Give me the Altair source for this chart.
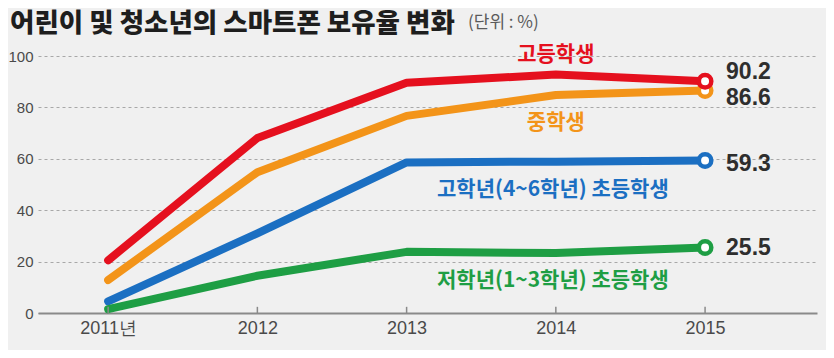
import altair as alt
import pandas as pd

years = [2011, 2012, 2013, 2014, 2015]
series_names = ["고등학생", "중학생", "고학년(4~6학년) 초등학생", "저학년(1~3학년) 초등학생"]
high = [20.5, 68.1, 89.6, 92.8, 90.2]
middle = [12.8, 54.8, 76.7, 84.8, 86.6]
upper_elem = [4.5, 31.0, 58.6, 58.9, 59.3]
lower_elem = [1.5, 14.5, 23.8, 23.3, 25.5]
values = [high, middle, upper_elem, lower_elem]
end_labels = ["90.2", "86.6", "59.3", "25.5"]
# series label anchor (year, value)
label_years = [2014, 2014, 2013.98, 2013.98]
label_values = [100.3, 74, 47.7, 12.5]

colors = ["#e5101e", "#f39419", "#1b6fc2", "#1e9e44"]
label_dy = [-9, 8, 3, 1]  # pixel nudge of the end labels

rows = []
for name, vals in zip(series_names, values):
    for y, v in zip(years, vals):
        rows.append({"series": name, "year": y, "value": v})
df = pd.DataFrame(rows)

end_df = pd.DataFrame({
    "series": series_names,
    "year": [years[-1]] * 4,
    "value": [v[-1] for v in values],
    "label": end_labels,
    "dy": label_dy,
    "order": [3, 2, 1, 0],
})
lab_df = pd.DataFrame({"series": series_names, "year": label_years, "value": label_values})
tick_df = pd.DataFrame({"year": years})

PX_PER_UNIT = 257 / 100.0

xscale = alt.Scale(domain=[2010.53, 2015.75], nice=False, zero=False)
yscale = alt.Scale(domain=[0, 100], nice=False)
cscale = alt.Scale(domain=series_names, range=colors)

X = alt.X("year:Q", scale=xscale, title=None,
          axis=alt.Axis(values=years, grid=False, ticks=False, domain=True,
                        domainColor="#8a8a8a", domainWidth=2,
                        labelExpr="datum.value == 2011 ? '2011년' : datum.label",
                        labelFont="Liberation Sans", labelFontSize=18,
                        labelColor="#4a4a4a", labelPadding=6, format="d"))
Y = alt.Y("value:Q", scale=yscale, title=None,
          axis=alt.Axis(values=[0, 20, 40, 60, 80, 100], grid=True, gridDash=[3, 3],
                        gridColor="#a8a8a8", gridWidth=1, domain=False, ticks=False,
                        labelFont="Liberation Sans", labelFontSize=15,
                        labelColor="#4a4a4a", labelPadding=5))

base = alt.Chart(df)
lines = base.mark_line(strokeWidth=8, strokeCap="round", strokeJoin="round").encode(
    x=X, y=Y,
    color=alt.Color("series:N", scale=cscale, legend=None),
    order=alt.Order("year:Q"),
    detail="series:N",
)

ticks = alt.Chart(tick_df).mark_rule(color="#8a8a8a", strokeWidth=1.5).encode(
    x=alt.X("year:Q", scale=xscale),
    y=alt.datum(0),
    y2=alt.datum(2.4),
)

points = alt.Chart(end_df).mark_point(filled=True, fill="white", size=155, strokeWidth=4.5, opacity=1).encode(
    x=alt.X("year:Q", scale=xscale),
    y=alt.Y("value:Q", scale=yscale),
    stroke=alt.Color("series:N", scale=cscale, legend=None),
    order=alt.Order("order:Q"),
)

end_text = alt.Chart(end_df).transform_calculate(
    ly=f"datum.value - datum.dy / {PX_PER_UNIT}"
).mark_text(align="left", baseline="middle", dx=21,
            font="Liberation Sans", fontWeight="bold",
            fontSize=23, color="#2e2e2e").encode(
    x=alt.X("year:Q", scale=xscale),
    y=alt.Y("ly:Q", scale=yscale),
    text="label:N",
)

series_text = alt.Chart(lab_df).mark_text(align="center", baseline="middle",
                                          font="Noto Sans CJK KR", fontWeight="bold",
                                          fontSize=21).encode(
    x=alt.X("year:Q", scale=xscale),
    y=alt.Y("value:Q", scale=yscale),
    color=alt.Color("series:N", scale=cscale, legend=None),
    text="series:N",
)

title_df = pd.DataFrame({"t": ["어린이 및 청소년의 스마트폰 보유율 변화"]})
title = alt.Chart(title_df).mark_text(align="left", baseline="alphabetic",
                                      font="Noto Sans CJK KR", fontWeight=900,
                                      fontSize=26.5, color="#1e1e1e").encode(
    x=alt.value(-28), y=alt.value(-24), text="t:N")
unit_df = pd.DataFrame({"t": ["(단위 : %)"]})
unit = alt.Chart(unit_df).mark_text(align="left", baseline="alphabetic",
                                    font="Noto Sans CJK KR", fontSize=17,
                                    color="#5a5a5a").encode(
    x=alt.value(430), y=alt.value(-28), text="t:N")

chart = alt.layer(lines, ticks, points, end_text, series_text, title, unit).properties(
    width=779, height=257,
    autosize=alt.AutoSizeParams(type="none"),
    padding={"left": 30, "top": 48, "right": 9, "bottom": 37},
    background="#f0f0f0",
).configure_view(stroke=None)

chart.save("out.html", embed_options={"renderer": "svg", "actions": False})
